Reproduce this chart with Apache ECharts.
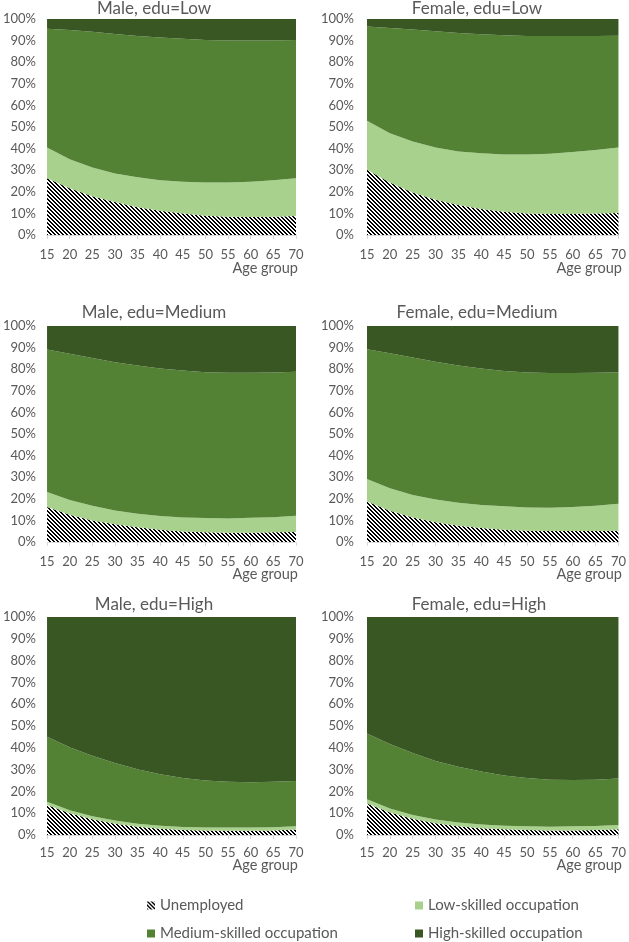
<!DOCTYPE html>
<html lang="en">
<head>
<meta charset="UTF-8">
<title>Occupation by age group</title>
<script src="https://cdn.jsdelivr.net/npm/echarts@6/dist/echarts.min.js"></script>
<style>
  html, body { margin: 0; padding: 0; background: #fff; }
  #chart { width: 629px; height: 942px; }
</style>
</head>
<body>
<div id="chart"></div>
<script>
// ---- data (shares in %) ----
var ages = ['15', '20', '25', '30', '35', '40', '45', '50', '55', '60', '65', '70'];
var seriesNames = ['Unemployed', 'Low-skilled occupation', 'Medium-skilled occupation', 'High-skilled occupation'];
var panelTitles = ['Male, edu=Low', 'Female, edu=Low', 'Male, edu=Medium', 'Female, edu=Medium', 'Male, edu=High', 'Female, edu=High'];

var unempMaleLow = [26.3, 21.7, 17.9, 15.3, 12.9, 11.2, 9.9, 8.9, 8.5, 8.3, 8.5, 8.8];
var lowMaleLow   = [14.2, 13.4, 13.4, 13.2, 13.8, 14.2, 14.8, 15.4, 15.8, 16.4, 16.8, 17.5];
var medMaleLow   = [55.0, 59.8, 62.8, 64.6, 65.4, 66.0, 66.1, 66.0, 65.8, 65.4, 64.8, 64.0];
var highMaleLow  = [4.5, 5.1, 5.9, 6.9, 7.9, 8.6, 9.2, 9.7, 9.9, 9.9, 9.9, 9.7];

var unempFemaleLow = [30.2, 24.3, 19.7, 16.3, 13.9, 12.0, 10.8, 10.0, 9.7, 9.7, 9.9, 10.2];
var lowFemaleLow   = [22.7, 22.8, 23.6, 24.2, 24.8, 25.8, 26.5, 27.3, 27.9, 28.7, 29.5, 30.3];
var medFemaleLow   = [43.6, 48.7, 51.8, 53.8, 54.8, 55.1, 55.2, 54.8, 54.5, 53.7, 52.7, 51.8];
var highFemaleLow  = [3.5, 4.2, 4.9, 5.7, 6.5, 7.1, 7.5, 7.9, 7.9, 7.9, 7.9, 7.7];

var unempMaleMed = [16.2, 12.6, 10.0, 8.2, 6.8, 5.7, 4.9, 4.5, 4.3, 4.3, 4.5, 4.6];
var lowMaleMed   = [6.9, 6.9, 6.8, 6.4, 6.3, 6.3, 6.5, 6.6, 6.6, 6.9, 7.0, 7.6];
var medMaleMed   = [66.0, 67.7, 68.4, 68.6, 68.6, 68.3, 68.0, 67.5, 67.4, 67.1, 67.0, 66.6];
var highMaleMed  = [10.9, 12.8, 14.8, 16.8, 18.3, 19.7, 20.6, 21.4, 21.7, 21.7, 21.5, 21.2];

var unempFemaleMed = [18.8, 14.5, 11.4, 9.2, 7.5, 6.5, 5.7, 5.2, 5.1, 5.1, 5.1, 5.2];
var lowFemaleMed   = [10.4, 10.4, 10.4, 10.5, 10.7, 10.6, 10.8, 10.8, 10.7, 11.1, 11.7, 12.5];
var medFemaleMed   = [60.0, 62.5, 63.6, 63.7, 63.5, 63.2, 62.7, 62.5, 62.4, 62.0, 61.5, 60.9];
var highFemaleMed  = [10.8, 12.6, 14.6, 16.6, 18.3, 19.7, 20.8, 21.5, 21.8, 21.8, 21.7, 21.4];

var unempMaleHigh = [13.8, 10.0, 7.2, 5.2, 3.8, 2.9, 2.3, 2.1, 2.0, 2.0, 2.1, 2.5];
var lowMaleHigh   = [1.5, 1.3, 1.4, 1.4, 1.4, 1.4, 1.4, 1.3, 1.4, 1.4, 1.4, 1.5];
var medMaleHigh   = [29.8, 28.9, 27.7, 26.4, 25.0, 23.6, 22.5, 21.6, 21.0, 20.8, 20.9, 20.8];
var highMaleHigh  = [54.9, 59.8, 63.7, 67.0, 69.8, 72.1, 73.8, 75.0, 75.6, 75.8, 75.6, 75.2];

var unempFemaleHigh = [14.4, 10.3, 7.4, 5.4, 4.0, 3.1, 2.6, 2.3, 2.1, 2.1, 2.3, 2.6];
var lowFemaleHigh   = [2.0, 1.8, 1.8, 1.7, 1.7, 1.7, 1.7, 1.7, 1.7, 1.9, 1.8, 2.0];
var medFemaleHigh   = [30.2, 29.6, 28.4, 26.9, 25.6, 24.3, 23.0, 22.1, 21.5, 21.2, 21.2, 21.3];
var highFemaleHigh  = [53.4, 58.3, 62.4, 66.0, 68.7, 70.9, 72.7, 73.9, 74.7, 74.8, 74.7, 74.1];

var panelData = [
    [unempMaleLow, lowMaleLow, medMaleLow, highMaleLow],
    [unempFemaleLow, lowFemaleLow, medFemaleLow, highFemaleLow],
    [unempMaleMed, lowMaleMed, medMaleMed, highMaleMed],
    [unempFemaleMed, lowFemaleMed, medFemaleMed, highFemaleMed],
    [unempMaleHigh, lowMaleHigh, medMaleHigh, highMaleHigh],
    [unempFemaleHigh, lowFemaleHigh, medFemaleHigh, highFemaleHigh]
];

// ---- layout / style ----
var grey = '#595959';
var font = 'Lato, "Open Sans", sans-serif';

// hatch fill for "Unemployed"
var hatch = document.createElement('canvas');
hatch.width = 4; hatch.height = 4;
var g = hatch.getContext('2d');
g.fillStyle = '#fff';
g.fillRect(0, 0, 4, 4);
g.fillStyle = '#000';
for (var i = 0; i < 4; i++) {
    g.fillRect(i, i, 1, 1);
    g.fillRect((i + 1) % 4, i, 1, 1);
}
var colors = [{ image: hatch, repeat: 'repeat' }, '#a9d18e', '#548235', '#385723'];

var boxes = [
    { left: 43,  top: 19,  width: 253, height: 216, tx: 154, ty: 0,   ny: 261, nr: 331, lm: 11, xm: 13 },
    { left: 367, top: 19,  width: 252, height: 216, tx: 477, ty: 0,   ny: 261, nr: 7,   lm: 13, xm: 13 },
    { left: 43,  top: 326, width: 253, height: 216, tx: 154, ty: 304, ny: 567, nr: 331, lm: 11, xm: 13 },
    { left: 367, top: 326, width: 252, height: 216, tx: 477, ty: 304, ny: 567, nr: 7,   lm: 13, xm: 13 },
    { left: 43,  top: 617, width: 253, height: 218, tx: 154, ty: 596, ny: 858, nr: 331, lm: 11, xm: 11 },
    { left: 367, top: 617, width: 252, height: 218, tx: 479, ty: 596, ny: 858, nr: 7,   lm: 13, xm: 11 }
];

var grids = [], xAxes = [], yAxes = [], titles = [], series = [];
boxes.forEach(function (b, p) {
    grids.push({ left: b.left, top: b.top, width: b.width, height: b.height });
    xAxes.push({
        type: 'category', gridIndex: p, data: ages, boundaryGap: false,
        axisLine: { lineStyle: { color: '#d9d9d9' } },
        axisTick: { alignWithLabel: true, length: 4, lineStyle: { color: '#d9d9d9' } },
        axisLabel: { interval: 0, color: grey, fontFamily: font, fontSize: 13, margin: b.xm }
    });
    yAxes.push({
        type: 'value', gridIndex: p, min: 0, max: 100, interval: 10,
        splitLine: { show: false }, axisLine: { show: false }, axisTick: { show: false },
        axisLabel: { formatter: '{value}%', color: grey, fontFamily: font, fontSize: 13, margin: b.lm }
    });
    titles.push({
        text: panelTitles[p], left: b.tx, top: b.ty, textAlign: 'center', padding: 0,
        textStyle: { color: grey, fontFamily: font, fontSize: 17, fontWeight: 'normal' }
    });
    titles.push({
        text: 'Age group', right: b.nr, top: b.ny, padding: 0,
        textStyle: { color: grey, fontFamily: font, fontSize: 14.5, fontWeight: 'normal' }
    });
    panelData[p].forEach(function (vals, s) {
        series.push({
            name: seriesNames[s], type: 'line', stack: 'p' + p,
            xAxisIndex: p, yAxisIndex: p, data: vals,
            symbol: 'none', silent: true,
            lineStyle: { width: 0 },
            itemStyle: { color: colors[s] },
            areaStyle: { color: colors[s], opacity: 1 }
        });
    });
});

// one legend per item so the 2 x 2 layout stays fixed
var legendSpots = [[147, 898], [415, 898], [147, 926], [415, 926]];
var legendOrder = [0, 1, 2, 3];
var legends = legendOrder.map(function (s, k) {
    return {
        data: [seriesNames[s]], left: legendSpots[k][0], top: legendSpots[k][1],
        icon: 'rect', itemWidth: 8, itemHeight: 8, itemGap: 0, padding: 0,
        selectedMode: false,
        textStyle: { color: grey, fontFamily: font, fontSize: 15 }
    };
});

var chart = echarts.init(document.getElementById('chart'), null, { renderer: 'canvas' });
chart.setOption({
    animation: false,
    backgroundColor: '#fff',
    title: titles,
    grid: grids,
    xAxis: xAxes,
    yAxis: yAxes,
    legend: legends,
    series: series
});
</script>
</body>
</html>
